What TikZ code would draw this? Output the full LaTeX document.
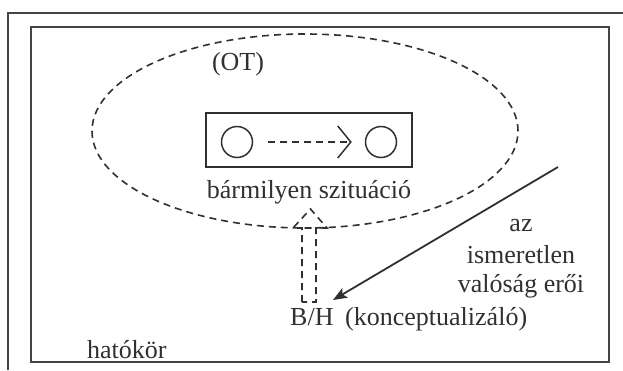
\documentclass[tikz,border=0pt]{standalone}
\usepackage{fontspec}
\setmainfont{Liberation Serif}
\usetikzlibrary{arrows.meta,shapes.geometric}
\definecolor{ink}{HTML}{303030}
\definecolor{frame}{HTML}{444444}
\tikzset{
  txt/.style={inner sep=0pt, anchor=base, text=ink, font=\fontsize{26}{30}\selectfont},
  dashline/.style={draw=ink, line width=1.6pt, dash pattern=on 7pt off 5pt},
  solidline/.style={draw=ink, line width=1.8pt},
  ring/.style={circle, draw=ink, line width=1.5pt, minimum size=31pt, inner sep=0pt}
}
\begin{document}
\begin{tikzpicture}[x=1pt,y=-1pt]
\useasboundingbox (0,0) rectangle (623,370);
% outer frame (left and top edges)
\draw[frame, line width=1.9pt] (8,370) -- (8,13) -- (623,13);
% inner frame
\draw[frame, line width=1.9pt] (31,27) rectangle (609,362);
% dashed ellipse
\draw[dashline] (305,131) ellipse [x radius=213pt, y radius=97pt];
% situation box
\node[draw=ink, line width=1.8pt, minimum width=206pt, minimum height=54pt, inner sep=0pt] (box) at (309,140) {};
\node[ring] (c1) at (237,142) {};
\node[ring] (c2) at (381,142) {};
\draw[dashline, shorten <=15pt, shorten >=13pt, -{Straight Barb[length=13pt, width=32pt, line width=1.5pt]}] (c1) -- (c2);
% texts
\node[txt] (ot) at (238,70) {(OT)};
\node[txt] (sit) at (309,198) {bármilyen szituáció};
\node[txt] (az) at (521,231) {az};
\node[txt] (ism) at (521,263) {ismeretlen};
\node[txt] (val) at (521,292) {valóság erői};
\node[txt, anchor=base west] (bh) at (290,325) {B/H\hspace{0.45em}(konceptualizáló)};
\node[txt, anchor=base west] (hat) at (87,358) {hatókör};
% dashed block arrow
\draw[dashline, line join=miter] (302,302) -- (302,228) -- (293,228) -- (310.5,209) -- (327,228) -- (316,228) -- (316,302) -- cycle;
% solid arrow
\coordinate (src) at (558,167);
\coordinate (tgt) at (333,300);
\draw[solidline, -{Stealth[length=14pt, width=11pt, inset=3pt]}] (src) -- (tgt);
\end{tikzpicture}
\end{document}
